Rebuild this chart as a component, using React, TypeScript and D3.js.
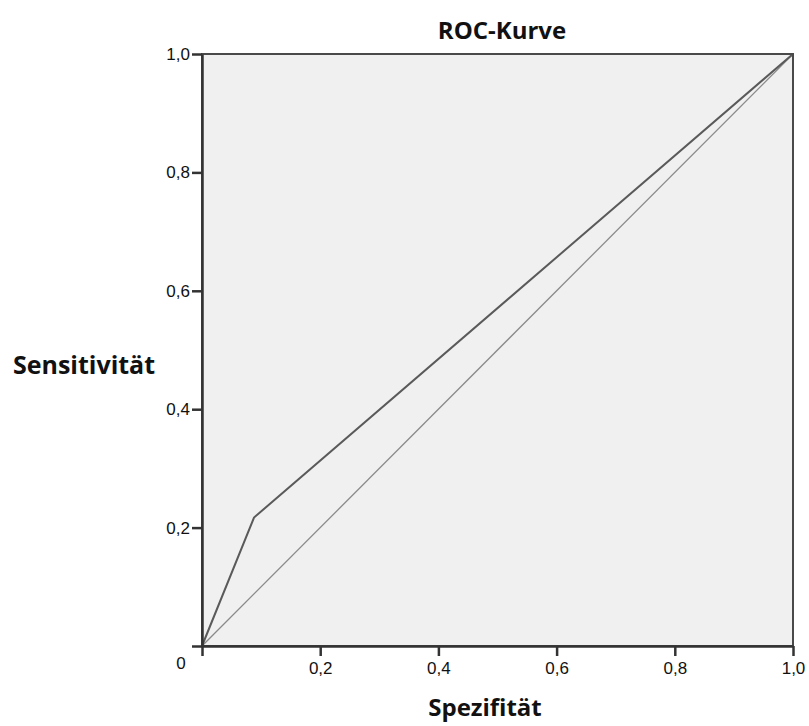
import React, { useEffect, useRef } from 'react';
import * as d3 from 'd3';

// ROC curve points (1 - specificity, sensitivity)
const rocFpr = [0, 0.088, 1];
const rocTpr = [0, 0.217, 1];
const diagonal = [0, 1];
const tickValues = [0.2, 0.4, 0.6, 0.8, 1.0];
const tickLabels = ['0,2', '0,4', '0,6', '0,8', '1,0'];

function App() {
  const ref = useRef<SVGSVGElement | null>(null);

  useEffect(() => {
    const width = 809;
    const height = 726;
    const margin = { top: 54, right: 16, bottom: 80, left: 202 };
    const innerW = 591;
    const innerH = 592;

    const root = d3.select(ref.current);
    root.selectAll('*').remove();

    root.append('rect').attr('width', width).attr('height', height).attr('fill', '#fff');

    const svg = root.append('g')
      .attr('transform', `translate(${margin.left},${margin.top})`);

    const x = d3.scaleLinear().domain([0, 1]).range([0, innerW]);
    const y = d3.scaleLinear().domain([0, 1]).range([innerH, 0]);

    svg.append('rect')
      .attr('width', innerW)
      .attr('height', innerH)
      .attr('fill', '#f0f0f0');

    const line = d3.line<[number, number]>()
      .x(d => x(d[0]))
      .y(d => y(d[1]));

    svg.append('path')
      .datum(diagonal.map(v => [v, v] as [number, number]))
      .attr('d', line)
      .attr('fill', 'none')
      .attr('stroke', '#8a8a8a')
      .attr('stroke-width', 1.3);

    svg.append('path')
      .datum(rocFpr.map((v, i) => [v, rocTpr[i]] as [number, number]))
      .attr('d', line)
      .attr('fill', 'none')
      .attr('stroke', '#5a5a5a')
      .attr('stroke-width', 2);

    // frame
    svg.append('rect')
      .attr('width', innerW)
      .attr('height', innerH)
      .attr('fill', 'none')
      .attr('stroke', '#4a4a4a')
      .attr('stroke-width', 2);

    const tickFmt = (d: d3.NumberValue) => tickLabels[tickValues.indexOf(+d)];

    const xAxis = svg.append('g')
      .attr('transform', `translate(0,${innerH})`)
      .call(d3.axisBottom(x).tickValues([0, ...tickValues]).tickSize(10).tickSizeOuter(0)
        .tickFormat(d => (+d === 0 ? '' : tickFmt(d))));
    const yAxis = svg.append('g')
      .call(d3.axisLeft(y).tickValues([0, ...tickValues]).tickSize(10).tickSizeOuter(0)
        .tickFormat(d => (+d === 0 ? '' : tickFmt(d))));

    const tickFont = 'Liberation Sans, Arial, sans-serif';
    [xAxis, yAxis].forEach(a => {
      a.attr('font-size', 17).attr('font-family', tickFont);
      a.select('.domain').attr('stroke', '#333').attr('stroke-width', 2.5);
      a.selectAll('.tick line').attr('stroke', '#333').attr('stroke-width', 2.5);
      a.selectAll('.tick text').attr('fill', '#111');
    });
    xAxis.selectAll('.tick text').attr('dy', '1.05em').attr('y', 10);
    yAxis.selectAll('.tick text').attr('x', -12);

    svg.append('text')
      .attr('x', -21)
      .attr('y', innerH + 23)
      .attr('text-anchor', 'middle')
      .attr('font-family', tickFont)
      .attr('font-size', 17)
      .attr('fill', '#111')
      .text('0');

    const titleFont = '"Open Sans", Lato, sans-serif';
    root.append('text')
      .attr('x', 502)
      .attr('y', 39)
      .attr('text-anchor', 'middle')
      .attr('font-family', titleFont)
      .attr('font-weight', 'bold')
      .attr('font-size', 24)
      .attr('fill', '#111')
      .text('ROC-Kurve');

    root.append('text')
      .attr('x', 84)
      .attr('y', 374)
      .attr('text-anchor', 'middle')
      .attr('font-family', titleFont)
      .attr('font-weight', 'bold')
      .attr('font-size', 25)
      .attr('fill', '#111')
      .text('Sensitivität');

    root.append('text')
      .attr('x', 485)
      .attr('y', 716)
      .attr('text-anchor', 'middle')
      .attr('font-family', titleFont)
      .attr('font-weight', 'bold')
      .attr('font-size', 24)
      .attr('fill', '#111')
      .text('Spezifität');
  }, []);

  return (
    <svg ref={ref} width={809} height={726} style={{ display: 'block', position: 'absolute', left: 0, top: 0 }} />
  );
}

export default App;
